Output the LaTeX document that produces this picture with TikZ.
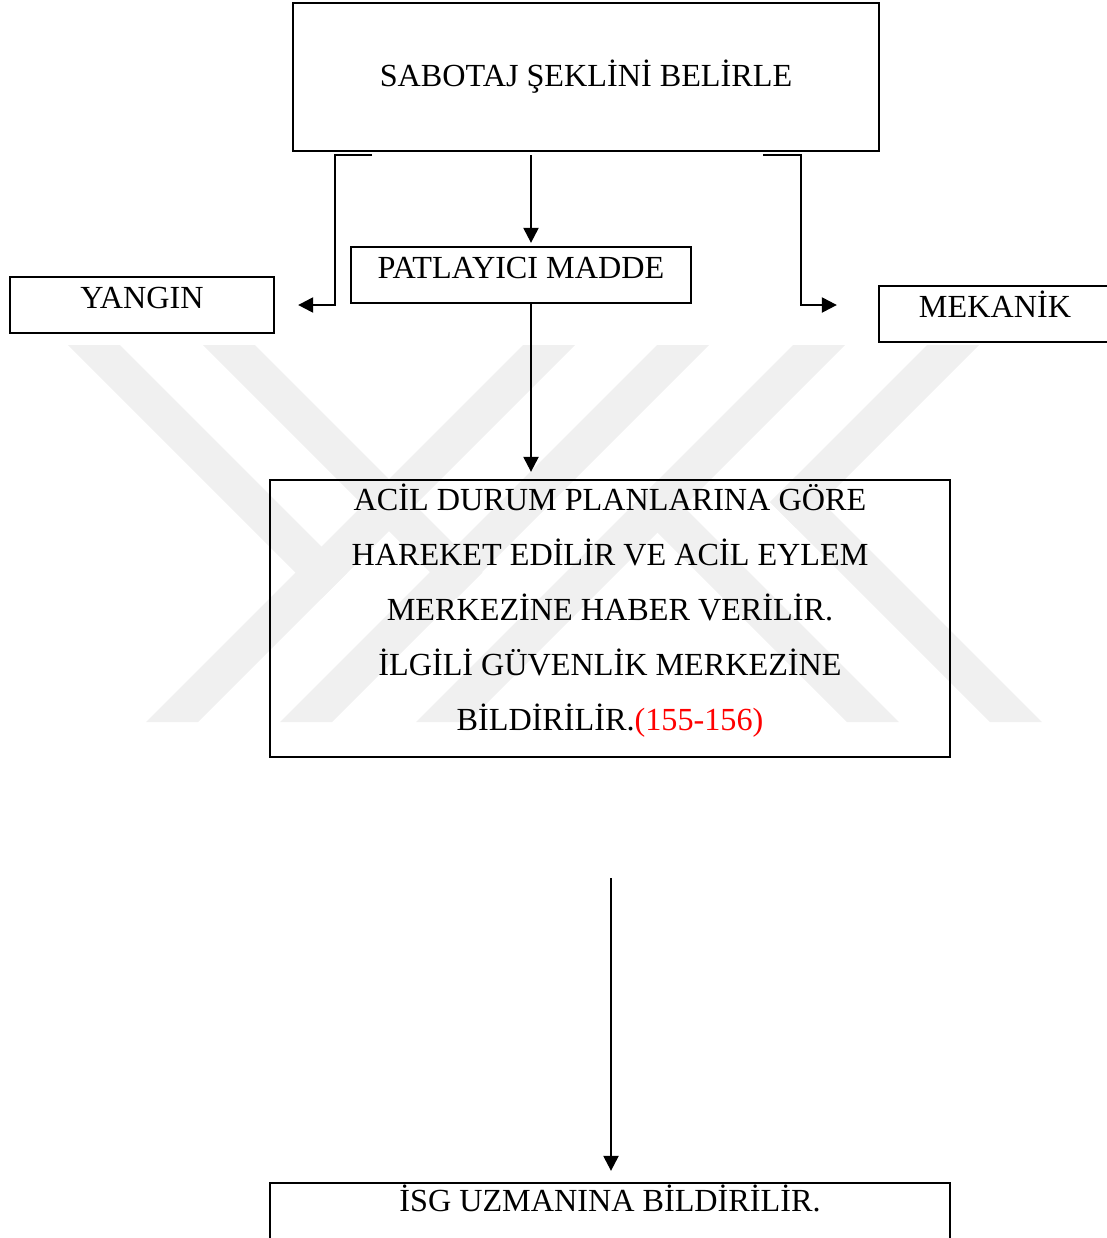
\documentclass[tikz,border=0pt]{standalone}
\usepackage{fontspec}
\setmainfont{Liberation Serif}
\usetikzlibrary{arrows.meta,positioning}

\begin{document}
\begin{tikzpicture}[x=0.5pt, y=-0.5pt,
	kutu/.style={draw, rectangle, line width=1.15pt, inner sep=0pt, font=\fontsize{16.1}{18}\selectfont},
	tekkutu/.style={kutu, text height=15.5pt, text depth=12.5pt, anchor=base},
	ok/.style={line width=1.15pt, -{Triangle[length=7.5pt, width=7.5pt]}},
	filigran/.style={fill=black!6, draw=none}]
	\useasboundingbox (0,0) rectangle (1107,1238);
	% filigran
	\foreach \a in {523,657,793} {
		\fill[filigran] (\a,345) -- ++(52,0) -- ++(-377,377) -- ++(-52,0) -- cycle;
	}
	\foreach \a in {68,203} {
		\fill[filigran] (\a,345) -- ++(52,0) -- ++(227.5,227.5) -- ++(-26,26) -- cycle;
	}
	\fill[filigran] (847,722) -- ++(52,0) -- ++(-241.5,-241.5) -- ++(-26,26) -- cycle;
	\fill[filigran] (990,722) -- ++(52,0) -- ++(-246,-246) -- ++(-26,26) -- cycle;
	\fill[filigran] (927,345) -- ++(52,0) -- ++(-183,183) -- ++(-26,-26) -- cycle;

	\node[kutu, minimum width=293pt, minimum height=74pt] (sabotaj) at (586,77) {SABOTAJ ŞEKLİNİ BELİRLE};
	\node[tekkutu, minimum width=132pt] (yangin) at (142,308) {YANGIN};
	\node[tekkutu, minimum width=170pt] (patlayici) at (521,278) {PATLAYICI MADDE};
	\node[tekkutu, minimum width=116pt] (mekanik) at (995,317) {MEKANİK};
	\node[kutu, align=center, minimum width=340pt, minimum height=138.5pt, text depth=11.5pt,
		font=\fontsize{16.1}{27.5}\selectfont] (acil) at (610,618.5)
		{ACİL DURUM PLANLARINA GÖRE\\ HAREKET EDİLİR VE ACİL EYLEM\\ MERKEZİNE HABER VERİLİR.\\
		İLGİLİ GÜVENLİK MERKEZİNE\\ BİLDİRİLİR.\textcolor{red}{(155-156)}};
	\node[kutu, minimum width=340pt, text height=14pt, text depth=22pt, anchor=base] (isg) at (610,1211) {İSG UZMANINA BİLDİRİLİR.};

	\coordinate (solbas) at ([shift={(-214,3)}]sabotaj.south);
	\coordinate (solok) at ([shift={(23,0)}]yangin.east);
	\coordinate (ortabas) at ([shift={(-55,3)}]sabotaj.south);
	\coordinate (sagbas) at ([shift={(177,3)}]sabotaj.south);
	\coordinate (sagok) at ([shift={(-41,-9)}]mekanik.west);
	\coordinate (altbas) at ([shift={(1,120)}]acil.south);

	\draw[ok] (solbas) -- ++(-37,0) |- (solok); % yangin
	\draw[ok, shorten >=1.5pt] (ortabas) -- (ortabas |- patlayici.north);
	\draw[ok] (sagbas) -- ++(38,0) |- (sagok); % mekanik
	\draw[ok, shorten >=3.5pt] (patlayici.south -| ortabas) -- (ortabas |- acil.north);
	\draw[ok, shorten >=5.5pt] (altbas) -- (altbas |- isg.north);
\end{tikzpicture}
\end{document}
